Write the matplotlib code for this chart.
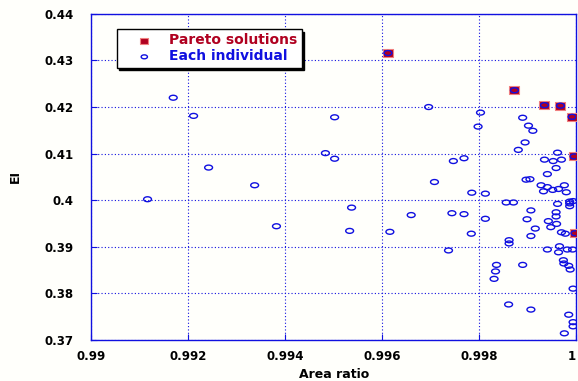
import matplotlib
matplotlib.use("Agg")
import matplotlib.pyplot as plt
from matplotlib.path import Path
from matplotlib.transforms import Affine2D

plt.rcParams["font.family"] = ["DejaVu Sans"]
plt.rcParams["font.weight"] = "bold"

# Pareto solutions (area ratio, EI)
pareto_x = [0.99612, 0.99873, 0.99935, 0.99968, 0.99992, 0.99996, 0.99998]
pareto_y = [0.4316, 0.4236, 0.4204, 0.4203, 0.4179, 0.4094, 0.3929]

# every individual of the population
indiv_x = [
    0.99169, 0.99211, 0.99502, 0.99483, 0.99502, 0.99242, 0.99337, 0.99116,
    0.99382, 0.99537, 0.99533,
    0.99696, 0.99803, 0.99798, 0.99890, 0.99902, 0.99911, 0.99895, 0.99881,
    0.99962, 0.99935, 0.99953, 0.99970, 0.99959, 0.99941, 0.99747, 0.99769,
    0.99708, 0.99897, 0.99905, 0.99928, 0.99941, 0.99933, 0.99952, 0.99964,
    0.99976, 0.99980, 0.99785, 0.99813,
    0.99856, 0.99871, 0.99962, 0.99987, 0.99987, 0.99994, 0.99987,
    0.99660, 0.99744, 0.99769, 0.99616, 0.99784, 0.99813, 0.99907, 0.99899,
    0.99916, 0.99907, 0.99862, 0.99862, 0.99959, 0.99959, 0.99943, 0.99960,
    0.99948, 0.99970, 0.99978, 0.99737, 0.99941, 0.99966, 0.99964, 0.99982,
    0.99993, 0.99836, 0.99834, 0.99831, 0.99890, 0.99974, 0.99975, 0.99985,
    0.99988, 0.99994, 0.99861, 0.99907, 0.99985, 0.99994, 0.99994, 0.99976,
    0.99612, 0.99873, 0.99935, 0.99968, 0.99992, 0.99996, 0.99998,
]
indiv_y = [
    0.4220, 0.4181, 0.4178, 0.4101, 0.4089, 0.4070, 0.4032, 0.4002,
    0.3944, 0.3984, 0.3934,
    0.4200, 0.4188, 0.4158, 0.4177, 0.4160, 0.4149, 0.4124, 0.4108,
    0.4102, 0.4087, 0.4084, 0.4087, 0.4069, 0.4056, 0.4084, 0.4090,
    0.4039, 0.4044, 0.4045, 0.4032, 0.4028, 0.4019, 0.4022, 0.4024,
    0.4032, 0.4017, 0.4016, 0.4014,
    0.3995, 0.3995, 0.3992, 0.3997, 0.3987, 0.3998, 0.3993,
    0.3968, 0.3972, 0.3970, 0.3932, 0.3928, 0.3960, 0.3978, 0.3959,
    0.3939, 0.3923, 0.3914, 0.3907, 0.3974, 0.3965, 0.3955, 0.3949,
    0.3942, 0.3931, 0.3928, 0.3892, 0.3894, 0.3901, 0.3888, 0.3894,
    0.3894, 0.3861, 0.3847, 0.3831, 0.3861, 0.3871, 0.3864, 0.3859,
    0.3851, 0.3810, 0.3776, 0.3765, 0.3754, 0.3738, 0.3729, 0.3714,
    0.4316, 0.4236, 0.4204, 0.4203, 0.4179, 0.4094, 0.3929,
]

x_ticks = [0.99, 0.992, 0.994, 0.996, 0.998, 1.0]
x_ticklabels = ["0.99", "0.992", "0.994", "0.996", "0.998", "1"]
y_ticks = [0.37, 0.38, 0.39, 0.40, 0.41, 0.42, 0.43, 0.44]
y_ticklabels = ["0.37", "0.38", "0.39", "0.4", "0.41", "0.42", "0.43", "0.44"]

blue = "#1010e0"
red = "#b00020"

# flat markers like the original
ellipse = Path.unit_circle().transformed(Affine2D().scale(1.6, 1.0))
rect = Path([(-1.45, -1), (1.45, -1), (1.45, 1), (-1.45, 1), (-1.45, -1)],
            [Path.MOVETO, Path.LINETO, Path.LINETO, Path.LINETO, Path.CLOSEPOLY])

fig = plt.figure(figsize=(5.78, 3.81), dpi=100)
fig.patch.set_facecolor("#fffffb")
ax = fig.add_axes([0.158, 0.108, 0.8385, 0.8555])
ax.set_facecolor("#fffffb")

ax.scatter(pareto_x, pareto_y, marker=rect, s=55, c=red,
           edgecolors="#f08080", linewidths=0.8, zorder=3, label="Pareto solutions")
ax.scatter(indiv_x, indiv_y, marker=ellipse, s=32, facecolors="none",
           edgecolors=blue, linewidths=1.0, zorder=4, label="Each individual")

ax.set_xlim(0.99, 1.0)
ax.set_ylim(0.37, 0.44)
ax.set_xticks(x_ticks)
ax.set_xticklabels(x_ticklabels)
ax.set_yticks(y_ticks)
ax.set_yticklabels(y_ticklabels)
ax.tick_params(direction="in", length=4, color=blue, labelsize=8.5, pad=7)
ax.tick_params(axis="y", pad=13)
for lab in ax.get_xticklabels() + ax.get_yticklabels():
    lab.set_fontweight("bold")
ax.get_xticklabels()[-1].set_horizontalalignment("right")

for sp in ax.spines.values():
    sp.set_color(blue)
    sp.set_linewidth(1.0)

ax.grid(True, color=blue, linestyle=(0, (1, 2)), linewidth=0.8)
ax.set_axisbelow(True)

ax.set_xlabel("Area ratio", fontsize=9, fontweight="bold", labelpad=4)
ax.set_ylabel("EI", fontsize=9, fontweight="bold", labelpad=16)

leg = ax.legend(loc="upper left", bbox_to_anchor=(0.052, 0.953), fancybox=False,
                shadow={"color": "black", "alpha": 1.0}, edgecolor="black",
                framealpha=1, fontsize=10, handletextpad=0.1, borderpad=0.3,
                labelspacing=0.15, handlelength=3.4, borderaxespad=0,
                markerscale=0.8)
leg.get_frame().set_linewidth(1.0)
leg.get_frame().set_facecolor("white")
for txt, col in zip(leg.get_texts(), [red, blue]):
    txt.set_color(col)
    txt.set_fontweight("bold")

fig.savefig("out.png", dpi=100, facecolor=fig.get_facecolor())
